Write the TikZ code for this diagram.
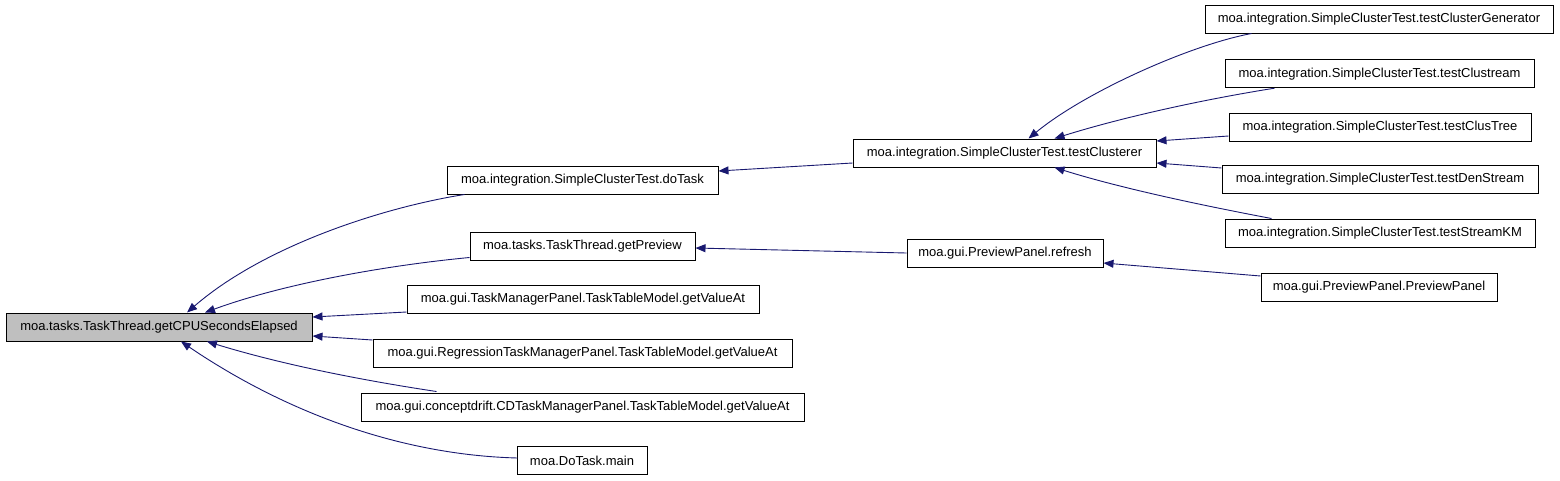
\documentclass[tikz,border=0pt]{standalone}
\usepackage{fontspec}
\setmainfont{Liberation Sans}
\usetikzlibrary{arrows.meta,calc}
\definecolor{edgeblue}{HTML}{191970}
\definecolor{rootgray}{HTML}{BFBFBF}
\tikzset{
  fn/.style={draw=black,line width=1pt,fill=white,inner sep=0pt,minimum height=28pt,
    font=\fontsize{13}{15}\selectfont,anchor=center},
  rootfn/.style={fn,fill=rootgray},
  edge/.style={draw=edgeblue,line width=0.9pt,-{Triangle[length=10pt,width=8pt]}}
}
\begin{document}
\begin{tikzpicture}[x=1pt,y=-1pt]
\useasboundingbox (0,0) rectangle (1560,480);
% nodes
\node[rootfn,minimum width=306pt] (root) at (159,327) {moa.tasks.TaskThread.getCPUSecondsElapsed};
\node[fn,minimum width=271pt] (dotask) at (582.5,180) {moa.integration.SimpleClusterTest.doTask};
\node[fn,minimum width=225pt] (getpreview) at (582.5,246) {moa.tasks.TaskThread.getPreview};
\node[fn,minimum width=352pt] (tmp) at (583,299.5) {moa.gui.TaskManagerPanel.TaskTableModel.getValueAt};
\node[fn,minimum width=419pt] (reg) at (582.5,353) {moa.gui.RegressionTaskManagerPanel.TaskTableModel.getValueAt};
\node[fn,minimum width=443pt] (cd) at (582.5,407) {moa.gui.conceptdrift.CDTaskManagerPanel.TaskTableModel.getValueAt};
\node[fn,minimum width=130pt] (main) at (582,460.5) {moa.DoTask.main};
\node[fn,minimum width=303pt] (clusterer) at (1004.5,153) {moa.integration.SimpleClusterTest.testClusterer};
\node[fn,minimum width=196pt] (refresh) at (1005,253) {moa.gui.PreviewPanel.refresh};
\node[fn,minimum width=348pt] (gen) at (1379,19) {moa.integration.SimpleClusterTest.testClusterGenerator};
\node[fn,minimum width=309pt] (clustream) at (1379.5,73.7) {moa.integration.SimpleClusterTest.testClustream};
\node[fn,minimum width=302pt] (clustree) at (1380,127) {moa.integration.SimpleClusterTest.testClusTree};
\node[fn,minimum width=316pt] (denstream) at (1380,179) {moa.integration.SimpleClusterTest.testDenStream};
\node[fn,minimum width=310pt] (streamkm) at (1380,233) {moa.integration.SimpleClusterTest.testStreamKM};
\node[fn,minimum width=236pt] (ppanel) at (1379,287) {moa.gui.PreviewPanel.PreviewPanel};
% edges into root
\draw[edge] ($(dotask.south west)+(18,0)$) .. controls (385,207) and (265,245) .. ($(root.north)+(28,0)$);
\draw[edge] ($(getpreview.south west)+(0,-3)$) .. controls (380,266) and (280,285) .. ($(root.north)+(46,0)$);
\draw[edge] ($(tmp.west)+(0,12.5)$) -- ($(root.east)+(0,-10)$);
\draw[edge] ($(reg.west)+(0,-13)$) -- ($(root.east)+(0,9)$);
\draw[edge] ($(cd.north west)+(76,-1)$) .. controls (360,380) and (280,364) .. ($(root.south)+(48,0)$);
\draw[edge] ($(main.west)+(1,-2.5)$) .. controls (400,455) and (285,412) .. ($(root.south)+(22,0)$);
% second level
\draw[edge] ($(clusterer.west)+(0,10)$) -- ($(dotask.east)+(0,-9)$);
\draw[edge] (refresh.west) -- ($(getpreview.east)+(0,2)$);
% third level
\draw[edge] ($(gen.south west)+(47,0)$) .. controls (1190,45) and (1085,92) .. ($(clusterer.north)+(24,0)$);
\draw[edge] ($(clustream.south west)+(50,0)$) .. controls (1200,100) and (1120,118) .. ($(clusterer.north)+(50,0)$);
\draw[edge] ($(clustree.west)+(0,9)$) -- ($(clusterer.east)+(0,-12)$);
\draw[edge] ($(denstream.west)+(0,-11)$) -- ($(clusterer.east)+(0,10)$);
\draw[edge] ($(streamkm.north west)+(47,0)$) .. controls (1200,205) and (1120,188) .. ($(clusterer.south)+(50,0)$);
\draw[edge] ($(ppanel.west)+(0,-11)$) -- ($(refresh.east)+(0,10)$);
\end{tikzpicture}
\end{document}
